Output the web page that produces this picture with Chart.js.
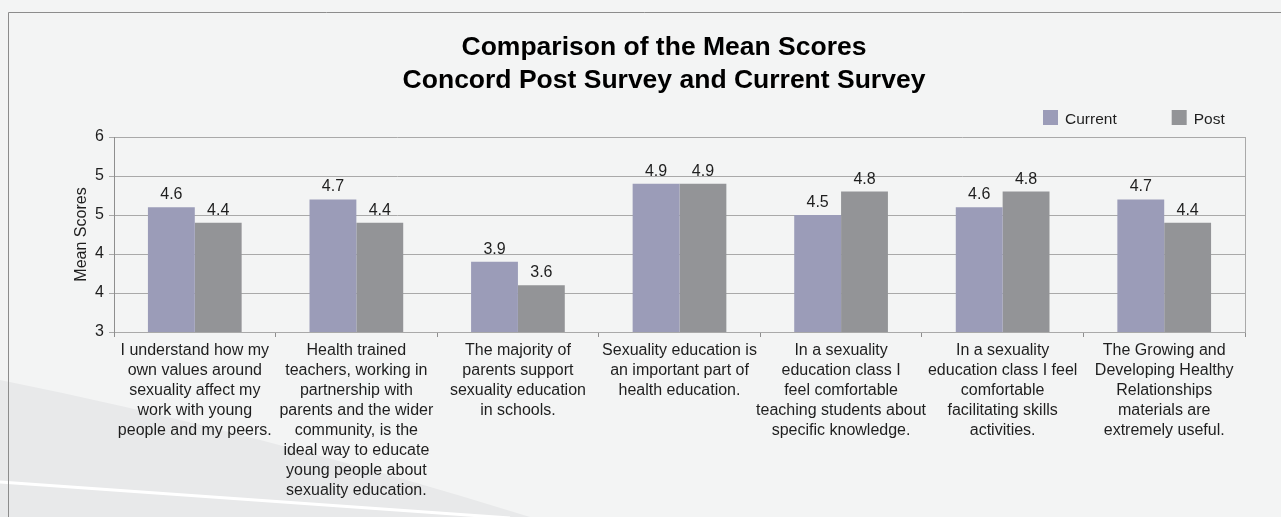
<!DOCTYPE html>
<html>
<head>
<meta charset="utf-8">
<script src="https://cdn.jsdelivr.net/npm/chart.js@4.4.1/dist/chart.umd.min.js"></script>
<style>
    body { margin: 0; background: #f3f4f4; }
    #wrap { width: 1281px; height: 517px; }
</style>
</head>
<body>
<div id="wrap"><canvas id="meanChart" width="1281" height="517"></canvas></div>
<script>
// Survey statements (x axis, already wrapped into lines)
const statements = [
    ['I understand how my', 'own values around', 'sexuality affect my', 'work with young', 'people and my peers.'],
    ['Health trained', 'teachers, working in', 'partnership with', 'parents and the wider', 'community, is the', 'ideal way to educate', 'young people about', 'sexuality education.'],
    ['The majority of', 'parents support', 'sexuality education', 'in schools.'],
    ['Sexuality education is', 'an important part of', 'health education.'],
    ['In a sexuality', 'education class I', 'feel comfortable', 'teaching students about', 'specific knowledge.'],
    ['In a sexuality', 'education class I feel', 'comfortable', 'facilitating skills', 'activities.'],
    ['The Growing and', 'Developing Healthy', 'Relationships', 'materials are', 'extremely useful.']
];

// Mean scores per survey
const currentScores = [4.6, 4.7, 3.9, 4.9, 4.5, 4.6, 4.7];
const postScores = [4.4, 4.4, 3.6, 4.9, 4.8, 4.8, 4.4];

const titleLines = ['Comparison of the Mean Scores', 'Concord Post Survey and Current Survey'];

const FONT = '"Liberation Sans", Arial, sans-serif';
const TEXT = '#1e1e1e';

// Background, frame, title, legend and value labels
const decorPlugin = {
    id: 'decor',
    beforeDraw(chart) {
        const ctx = chart.ctx;
        ctx.save();
        ctx.fillStyle = '#f3f4f4';
        ctx.fillRect(0, 0, chart.width, chart.height);

        // grey swoosh bottom left
        ctx.beginPath();
        ctx.moveTo(0, 380);
        ctx.quadraticCurveTo(250, 430, 530, 517);
        ctx.lineTo(0, 517);
        ctx.closePath();
        ctx.fillStyle = '#e8e9ea';
        ctx.fill();

        ctx.beginPath();
        ctx.moveTo(0, 482);
        ctx.lineTo(510, 518);
        ctx.strokeStyle = '#ffffff';
        ctx.lineWidth = 3;
        ctx.stroke();

        // outer frame
        ctx.beginPath();
        ctx.moveTo(8.5, 517);
        ctx.lineTo(8.5, 12.5);
        ctx.lineTo(chart.width, 12.5);
        ctx.strokeStyle = '#8c8c8c';
        ctx.lineWidth = 1;
        ctx.stroke();
        ctx.restore();
    },
    afterDatasetsDraw(chart) {
        const ctx = chart.ctx;
        ctx.save();
        ctx.font = '16px ' + FONT;
        ctx.fillStyle = TEXT;
        ctx.textAlign = 'center';
        ctx.textBaseline = 'alphabetic';
        chart.data.datasets.forEach((ds, i) => {
            chart.getDatasetMeta(i).data.forEach((bar, j) => {
                ctx.fillText(ds.data[j].toFixed(1), bar.x, bar.y - 8);
            });
        });
        ctx.restore();
    },
    afterDraw(chart) {
        const ctx = chart.ctx;
        const area = chart.chartArea;
        ctx.save();

        // right edge of the plot area
        ctx.beginPath();
        ctx.moveTo(Math.round(area.right) + 0.5, area.top);
        ctx.lineTo(Math.round(area.right) + 0.5, area.bottom);
        ctx.strokeStyle = '#a9a9a9';
        ctx.lineWidth = 1;
        ctx.stroke();

        // title
        ctx.fillStyle = '#000';
        ctx.font = 'bold 26.5px ' + FONT;
        ctx.textAlign = 'center';
        ctx.textBaseline = 'alphabetic';
        ctx.fillText(titleLines[0], 664, 55);
        ctx.fillText(titleLines[1], 664, 88);

        // legend
        ctx.font = '15.5px ' + FONT;
        ctx.textAlign = 'left';
        ctx.fillStyle = TEXT;
        let x = 1043;
        chart.data.datasets.forEach(ds => {
            ctx.fillStyle = ds.backgroundColor;
            ctx.fillRect(x, 110, 15, 15);
            ctx.fillStyle = TEXT;
            ctx.fillText(ds.label, x + 22, 124);
            x += 22 + ctx.measureText(ds.label).width + 55;
        });
        ctx.restore();
    }
};

const ctx = document.getElementById('meanChart').getContext('2d');

const meanChart = new Chart(ctx, {
    type: 'bar',
    data: {
        labels: statements,
        datasets: [
            { label: 'Current', data: currentScores, backgroundColor: '#9b9cb8' },
            { label: 'Post', data: postScores, backgroundColor: '#939497' }
        ]
    },
    options: {
        responsive: false,
        animation: false,
        layout: { padding: { top: 137, right: 36, left: 0, bottom: 0 } },
        datasets: {
            bar: { categoryPercentage: 0.58, barPercentage: 1.0 }
        },
        plugins: {
            legend: { display: false },
            title: { display: false },
            tooltip: { enabled: false }
        },
        scales: {
            x: {
                grid: {
                    offset: true,
                    drawOnChartArea: false,
                    drawTicks: true,
                    tickLength: 5,
                    color: '#8e8e8e'
                },
                border: { color: '#a9a9a9' },
                ticks: {
                    maxRotation: 0,
                    autoSkip: false,
                    padding: 4,
                    color: TEXT,
                    font: { family: FONT, size: 16, lineHeight: '20px' }
                },
                afterFit(scale) { scale.height = 185; }
            },
            y: {
                min: 3,
                max: 5.5,
                ticks: {
                    stepSize: 0.5,
                    padding: 5,
                    color: TEXT,
                    font: { family: FONT, size: 16 },
                    callback: v => Math.round(v)
                },
                grid: { color: '#a9a9a9', tickLength: 5 },
                border: { color: '#8e8e8e' },
                title: {
                    display: true,
                    text: 'Mean Scores',
                    color: TEXT,
                    font: { family: FONT, size: 16 },
                    padding: { top: 72, bottom: 0 }
                },
                afterFit(scale) { scale.width = 114; }
            }
        }
    },
    plugins: [decorPlugin]
});
</script>
</body>
</html>
